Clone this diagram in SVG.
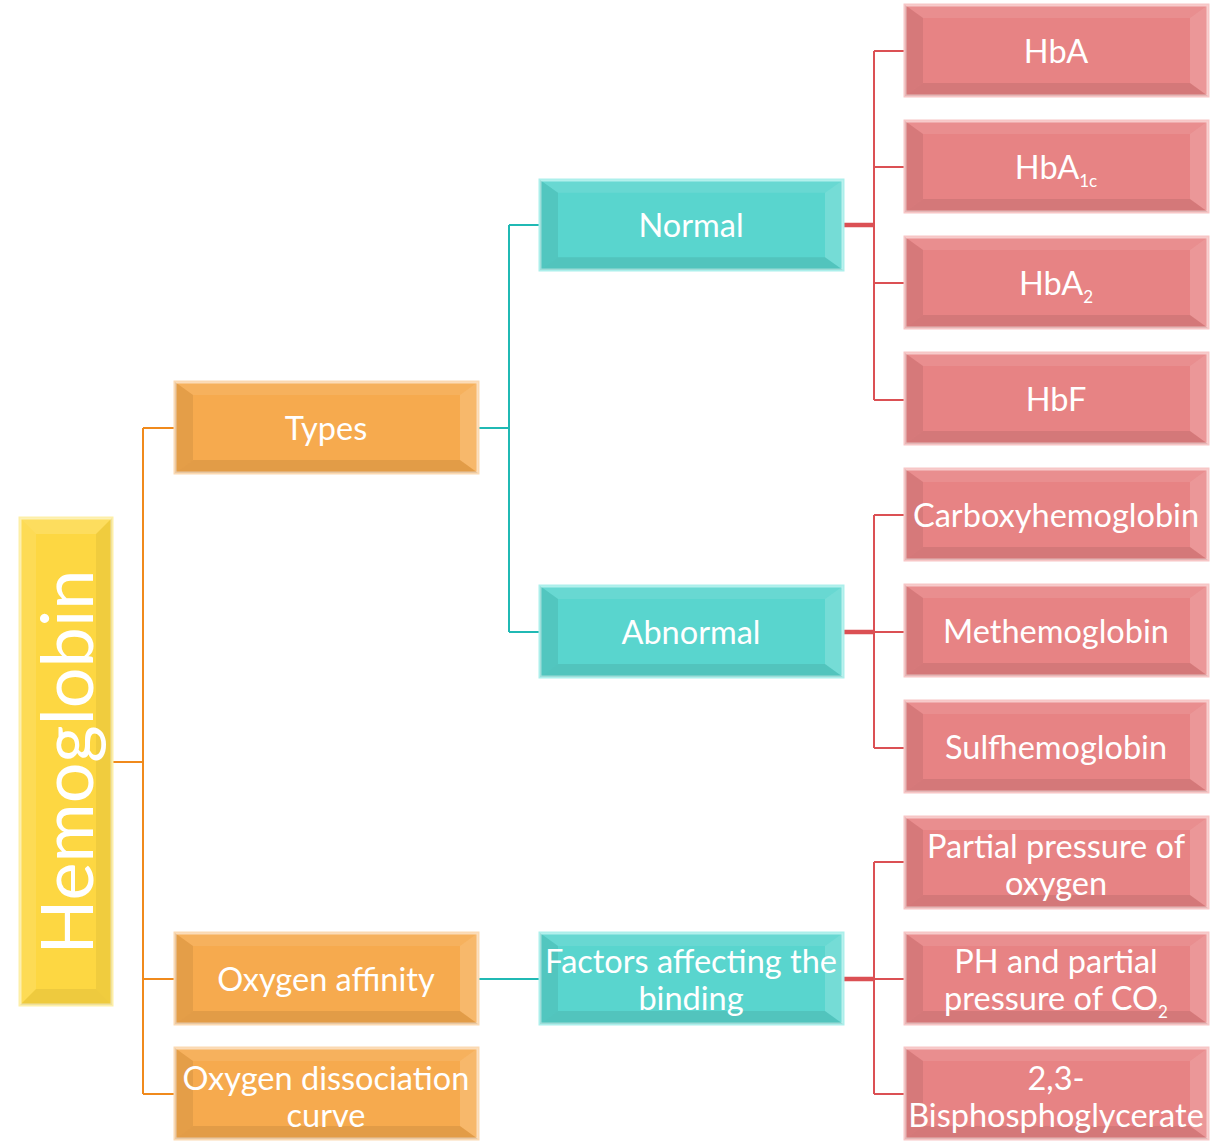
<svg xmlns="http://www.w3.org/2000/svg" xmlns:xlink="http://www.w3.org/1999/xlink" width="1211" height="1141" viewBox="0 0 1211 1141">
<style>
.t{font-family:Lato,"Open Sans","Liberation Sans",sans-serif;font-size:32.5px;fill:#fff;text-anchor:middle}
.sub{font-size:17px}
.or{fill:#F6AA4E;stroke:#FBD9B2;stroke-width:3}
.te{fill:#59D5CE;stroke:#ACEFEB;stroke-width:3}
.re{fill:#E78384;stroke:#F7C6C6;stroke-width:3}
.ye{fill:#FDD742;stroke:#FDEFA8;stroke-width:3}
.c{fill:none;stroke-width:2}
.stem{stroke-width:4.5}
.co{stroke:#F08A1C}.ct{stroke:#20B9B4}.cr{stroke:#DB5054}
</style>
<defs>
<symbol id="bev" viewBox="0 0 303 91" preserveAspectRatio="none">
<polygon points="0,0 303,0 285,13 18,13" fill="#fff" opacity="0.09"/>
<polygon points="303,0 303,91 285,78 285,13" fill="#fff" opacity="0.17"/>
<polygon points="0,0 18,13 18,78 0,91" fill="#000" opacity="0.07"/>
<polygon points="0,91 18,78 285,78 303,91" fill="#000" opacity="0.08"/>
</symbol>
</defs>
<g id="connectors">
<path class="c co" d="M112,762H143M143,428V1094M143,428H175M143,979H175M143,1094H175"/>
<path class="c ct" d="M478,428H509M509,225V632M509,225H540M509,632H540M478,979H540"/>
<path class="c cr" d="M874,51V400M874,51H905M874,167H905M874,283H905M874,400H905"/>
<path class="c cr" d="M874,515V748M874,515H905M874,632H905M874,748H905"/>
<path class="c cr" d="M874,862V1094M874,862H905M874,979H905M874,1094H905"/>
<path class="c cr stem" d="M843,225H874M843,632H874M843,979H874"/>
</g>
<g id="hemoglobin">
<rect class="ye" x="20" y="518" width="92" height="487"/>
<polygon points="20,518 112,518 96,534 36,534" fill="#fff" opacity="0.15"/>
<polygon points="112,518 112,1005 96,989 96,534" fill="#000" opacity="0.05"/>
<polygon points="20,518 36,534 36,989 20,1005" fill="#fff" opacity="0.1"/>
<polygon points="20,1005 36,989 96,989 112,1005" fill="#000" opacity="0.06"/>
<text class="t" style="font-size:72px" transform="translate(93,762) rotate(-90)">Hemoglobin</text>
</g>
<g id="types"><rect class="or" x="175" y="382" width="303" height="91"/><use href="#bev" x="175" y="382" width="303" height="91"/><text class="t" x="326" y="440">Types</text></g>
<g id="oxygen-affinity"><rect class="or" x="175" y="933" width="303" height="91"/><use href="#bev" x="175" y="933" width="303" height="91"/><text class="t" x="326" y="991">Oxygen affinity</text></g>
<g id="oxygen-dissociation"><rect class="or" x="175" y="1048" width="303" height="91"/><use href="#bev" x="175" y="1048" width="303" height="91"/><text class="t" x="326" y="1090">Oxygen dissociation</text><text class="t" x="326" y="1127">curve</text></g>
<g id="normal"><rect class="te" x="540" y="180" width="303" height="90"/><use href="#bev" x="540" y="180" width="303" height="90"/><text class="t" x="691" y="237">Normal</text></g>
<g id="abnormal"><rect class="te" x="540" y="586" width="303" height="91"/><use href="#bev" x="540" y="586" width="303" height="91"/><text class="t" x="691" y="644">Abnormal</text></g>
<g id="factors"><rect class="te" x="540" y="933" width="303" height="91"/><use href="#bev" x="540" y="933" width="303" height="91"/><text class="t" x="691" y="973">Factors affecting the</text><text class="t" x="691" y="1010">binding</text></g>
<g id="hba"><rect class="re" x="905" y="5" width="303" height="91"/><use href="#bev" x="905" y="5" width="303" height="91"/><text class="t" x="1056" y="63">HbA</text></g>
<g id="hba1c"><rect class="re" x="905" y="121" width="303" height="91"/><use href="#bev" x="905" y="121" width="303" height="91"/><text class="t" x="1056" y="179">HbA<tspan class="sub" dy="8">1c</tspan></text></g>
<g id="hba2"><rect class="re" x="905" y="237" width="303" height="91"/><use href="#bev" x="905" y="237" width="303" height="91"/><text class="t" x="1056" y="295">HbA<tspan class="sub" dy="8">2</tspan></text></g>
<g id="hbf"><rect class="re" x="905" y="353" width="303" height="91"/><use href="#bev" x="905" y="353" width="303" height="91"/><text class="t" x="1056" y="411">HbF</text></g>
<g id="carboxy"><rect class="re" x="905" y="469" width="303" height="91"/><use href="#bev" x="905" y="469" width="303" height="91"/><text class="t" x="1056" y="527">Carboxyhemoglobin</text></g>
<g id="methe"><rect class="re" x="905" y="585" width="303" height="91"/><use href="#bev" x="905" y="585" width="303" height="91"/><text class="t" x="1056" y="643">Methemoglobin</text></g>
<g id="sulf"><rect class="re" x="905" y="701" width="303" height="91"/><use href="#bev" x="905" y="701" width="303" height="91"/><text class="t" x="1056" y="759">Sulfhemoglobin</text></g>
<g id="partial"><rect class="re" x="905" y="817" width="303" height="91"/><use href="#bev" x="905" y="817" width="303" height="91"/><text class="t" x="1056" y="858">Partial pressure of</text><text class="t" x="1056" y="895">oxygen</text></g>
<g id="ph"><rect class="re" x="905" y="933" width="303" height="91"/><use href="#bev" x="905" y="933" width="303" height="91"/><text class="t" x="1056" y="973">PH and partial</text><text class="t" x="1056" y="1010">pressure of CO<tspan class="sub" dy="8">2</tspan></text></g>
<g id="bpg"><rect class="re" x="905" y="1048" width="303" height="91"/><use href="#bev" x="905" y="1048" width="303" height="91"/><text class="t" x="1056" y="1090">2,3-</text><text class="t" x="1056" y="1127">Bisphosphoglycerate</text></g>
</svg>
